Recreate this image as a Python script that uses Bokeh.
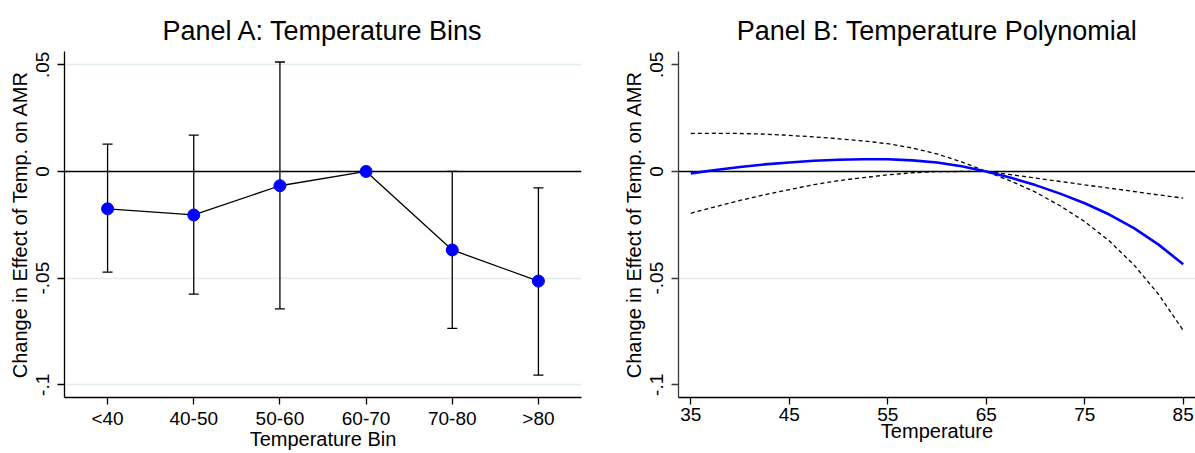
from bokeh.plotting import figure
from bokeh.layouts import row
from bokeh.models import (ColumnDataSource, FactorRange, Range1d, FixedTicker, Span,
                          Whisker, TeeHead, CustomJSTickFormatter)
from bokeh.embed import file_html
from bokeh.resources import INLINE

# ---------------- data ----------------
bins = ["<40", "40-50", "50-60", "60-70", "70-80", ">80"]
bin_est = [-0.0175, -0.0204, -0.0067, 0.0, -0.0368, -0.0514]
bin_lo = [-0.0472, -0.0575, -0.0644, None, -0.0736, -0.0955]
bin_hi = [0.0128, 0.0170, 0.0513, None, 0.0000, -0.0077]

temp = [35, 37.5, 40, 42.5, 45, 47.5, 50, 52.5, 55, 57.5, 60, 62.5, 65,
        67.5, 70, 72.5, 75, 77.5, 80, 82.5, 85]
poly_est = [-0.0009, 0.0007, 0.0021, 0.0033, 0.0042, 0.0050, 0.0055, 0.0057, 0.0057,
            0.0052, 0.0042, 0.0024, 0.0, -0.0030, -0.0064, -0.0104, -0.0149, -0.0202,
            -0.0266, -0.0343, -0.0435]
poly_hi = [0.0178, 0.0179, 0.0178, 0.0175, 0.0169, 0.0162, 0.0153, 0.0143, 0.0130,
           0.0110, 0.0082, 0.0045, 0.0, -0.0015, -0.0031, -0.0047, -0.0063, -0.0078,
           -0.0094, -0.0110, -0.0125]
poly_lo = [-0.0196, -0.0165, -0.0136, -0.0109, -0.0085, -0.0062, -0.0043, -0.0029,
           -0.0016, -0.0006, -0.0001, 0.0, 0.0, -0.0045, -0.0097, -0.0161, -0.0235,
           -0.0326, -0.0438, -0.0576, -0.0745]

y_ticks = [-0.1, -0.05, 0, 0.05]
y_tick_labels = ["-.1", "-.05", "0", ".05"]
t_ticks = [35, 45, 55, 65, 75, 85]

titles = ["Panel A: Temperature Bins", "Panel B: Temperature Polynomial"]
x_labels = ["Temperature Bin", "Temperature"]
y_label = "Change in Effect of Temp. on AMR"

FONT = "Liberation Sans"
GRID = "#E3ECF1"
FRAME_W = 517
TOP, BOTTOM, LEFT = 51, 56, 64
Y0, Y1 = -0.10596, 0.05623


def make_fmt():
    return CustomJSTickFormatter(args=dict(tvals=y_ticks, tlabels=y_tick_labels), code="""
let best = 0;
for (let i = 0; i < tvals.length; i++) {
  if (Math.abs(tvals[i] - tick) < Math.abs(tvals[best] - tick)) best = i;
}
return tlabels[best];
""")


def style(p, title, xlab, grid_ticks, yaxis_color):
    p.title.text = title
    p.title.align = "center"
    p.title.text_font = FONT
    p.title.text_font_size = "27px"
    p.title.text_font_style = "normal"
    p.title.text_color = "black"
    p.title.standoff = 12
    p.outline_line_color = None
    p.background_fill_color = "white"
    p.border_fill_color = "white"
    p.xgrid.visible = False
    p.ygrid.ticker = FixedTicker(ticks=grid_ticks)
    p.ygrid.grid_line_color = GRID
    p.ygrid.grid_line_width = 1.5
    for ax, col in ((p.xaxis, "black"), (p.yaxis, yaxis_color)):
        ax.axis_line_color = col
        ax.axis_line_width = 1.3
        ax.major_tick_line_color = col
        ax.major_tick_line_width = 1.3
        ax.major_tick_out = 7
        ax.major_tick_in = 0
        ax.minor_tick_line_color = None
        ax.major_label_text_font = FONT
        ax.major_label_text_font_size = "19px"
        ax.major_label_text_color = "black"
        ax.axis_label_text_font = FONT
        ax.axis_label_text_font_size = "20px"
        ax.axis_label_text_font_style = "normal"
        ax.axis_label_text_color = "black"
    p.xaxis.axis_label = xlab
    p.xaxis.major_label_standoff = 3
    p.xaxis.axis_label_standoff = -4
    p.yaxis.axis_label = y_label
    p.yaxis.ticker = FixedTicker(ticks=y_ticks)
    p.yaxis.formatter = make_fmt()
    p.yaxis.major_label_orientation = "vertical"
    p.yaxis.major_label_standoff = 8
    p.yaxis.axis_label_standoff = 3
    zero = Span(location=0, dimension="width", line_color="black", line_width=1.4,
                level="underlay")
    p.add_layout(zero)


# ---------------- Panel A ----------------
pA = figure(width=614, height=453, x_range=FactorRange(factors=bins),
            y_range=Range1d(Y0, Y1), output_backend="svg", toolbar_location=None,
            min_border_left=LEFT, min_border_right=614 - LEFT - FRAME_W,
            min_border_top=TOP, min_border_bottom=BOTTOM)
style(pA, titles[0], x_labels[0], [-0.1, -0.05, 0.05], "black")

wb = [b for b, l in zip(bins, bin_lo) if l is not None]
wl = [l for l in bin_lo if l is not None]
wh = [h for h in bin_hi if h is not None]
wsrc = ColumnDataSource(dict(x=wb, lo=wl, hi=wh))
whisk = Whisker(source=wsrc, base="x", lower="lo", upper="hi", dimension="height",
                line_color="black", line_width=1.3,
                upper_head=TeeHead(size=10, line_color="black", line_width=1.3),
                lower_head=TeeHead(size=10, line_color="black", line_width=1.3))
pA.add_layout(whisk)
pA.line(bins, bin_est, line_color="black", line_width=1.3)
pA.scatter(bins, bin_est, size=12, fill_color="#0000FF", line_color="#0000FF")

# ---------------- Panel B ----------------
pB = figure(width=1195 - 614, height=453, x_range=Range1d(33.75, 86.25),
            y_range=Range1d(Y0, Y1), output_backend="svg", toolbar_location=None,
            min_border_left=LEFT, min_border_right=0,
            min_border_top=TOP, min_border_bottom=BOTTOM)
style(pB, titles[1], x_labels[1], [-0.05], "#3a3a3a")
pB.xaxis.ticker = FixedTicker(ticks=t_ticks)
pB.line(temp, poly_hi, line_color="black", line_width=1.3, line_dash="4 3")
pB.line(temp, poly_lo, line_color="black", line_width=1.3, line_dash="4 3")
pB.line(temp, poly_est, line_color="#0000FF", line_width=2.6)

layout = row(pA, pB, spacing=0)
open("out.html", "w").write(file_html(layout, INLINE))
